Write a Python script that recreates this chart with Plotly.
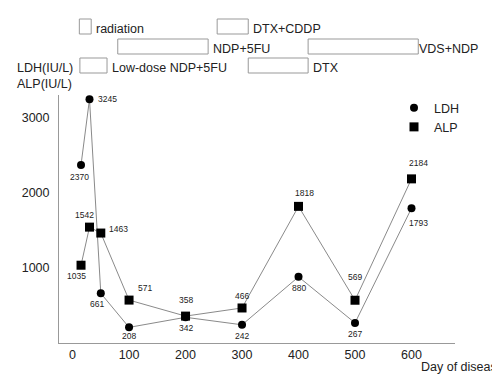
import plotly.graph_objects as go

# ---- data ----
days = [15, 30, 50, 100, 200, 300, 400, 500, 600]
ldh = [2370, 3245, 661, 208, 342, 242, 880, 267, 1793]
alp = [1035, 1542, 1463, 571, 358, 466, 1818, 569, 2184]
x_ticks = [0, 100, 200, 300, 400, 500, 600]
y_ticks = [1000, 2000, 3000]

# treatment periods (name, start day, end day, row)
treat_names = ["radiation", "DTX+CDDP", "NDP+5FU", "VDS+NDP", "Low-dose NDP+5FU", "DTX"]
treat_start = [12, 256, 80, 417, 13, 311]
treat_end = [33, 311, 240, 612, 61, 417]
treat_row = [0, 0, 1, 1, 2, 2]

# ---- layout constants (pixels in the 500x375 window) ----
PAGE = 8                      # browser body margin
W, H = 500 - PAGE, 375 - PAGE
PL, PR, PT, PB = 59, 455, 95, 343     # plot area edges in window pixels
L, T = PL - PAGE, PT - PAGE
R, B = W - (PR - PAGE), H - (PB - PAGE)
PW, PH = PR - PL, PB - PT
FONT = "Liberation Sans, Arial, sans-serif"

def py2paper(py):
    return (PB - py) / PH

def px2paper(px):
    return (px - PL) / PW

# label offsets (dx, dy) in px, screen coords (dy down)
ldh_off = [(-2, 12), (18, 0), (-4, 11), (0, 9), (0, 11), (0, 11), (0, 11), (0, 11), (7, 15)]
alp_off = [(-5, 11), (-5, -12), (18, -4), (16, -12), (0, -16), (0, -12), (6, -13), (0, -23), (7, -16)]

row_box = [(19, 34), (39, 54), (58, 73)]
text_shift = [3, 3, 3, -1, 3, 3]

fig = go.Figure()
fig.add_trace(go.Scatter(x=days, y=ldh, mode="lines+markers", name="LDH",
                         line=dict(color="#8a8a8a", width=1),
                         marker=dict(symbol="circle", size=8, color="black"),
                         showlegend=False))
fig.add_trace(go.Scatter(x=days, y=alp, mode="lines+markers", name="ALP",
                         line=dict(color="#8a8a8a", width=1),
                         marker=dict(symbol="square", size=9, color="black"),
                         showlegend=False))
# legend entries (markers only)
fig.add_trace(go.Scatter(x=[None], y=[None], mode="markers", name="LDH",
                         marker=dict(symbol="circle", size=8, color="black")))
fig.add_trace(go.Scatter(x=[None], y=[None], mode="markers", name="ALP",
                         marker=dict(symbol="square", size=9, color="black")))

annotations = []
for series, offs in ((ldh, ldh_off), (alp, alp_off)):
    for d, v, (dx, dy) in zip(days, series, offs):
        annotations.append(dict(x=d, y=v, xref="x", yref="y", text=str(v),
                                showarrow=False, xshift=dx, yshift=-dy,
                                font=dict(size=8.5, color="#222", family=FONT)))

shapes = []
for name, s, e, r, sh in zip(treat_names, treat_start, treat_end, treat_row, text_shift):
    top, bot = row_box[r]
    shapes.append(dict(type="rect", xref="x", yref="paper", x0=s, x1=e,
                       y0=py2paper(bot), y1=py2paper(top),
                       line=dict(color="#999999", width=1), fillcolor="white"))
    annotations.append(dict(x=e, y=py2paper((top + bot) / 2 + 2), xref="x", yref="paper",
                            text=name, showarrow=False, xanchor="left", yanchor="middle",
                            xshift=sh, font=dict(size=12.5, color="#222", family=FONT)))

annotations.append(dict(x=px2paper(15), y=py2paper(76), xref="paper", yref="paper",
                        text="LDH(IU/L)<br>ALP(IU/L)", showarrow=False, align="left",
                        xanchor="left", yanchor="middle",
                        font=dict(size=12.5, color="#222", family=FONT)))
annotations.append(dict(x=px2paper(419), y=py2paper(367), xref="paper", yref="paper",
                        text="Day of disease", showarrow=False,
                        xanchor="left", yanchor="middle",
                        font=dict(size=12.5, color="#222", family=FONT)))

fig.update_layout(
    width=W, height=H,
    margin=dict(l=L, r=R, t=T, b=B, autoexpand=False),
    plot_bgcolor="white", paper_bgcolor="white",
    font=dict(family=FONT, size=12.5, color="#222"),
    shapes=shapes, annotations=annotations,
    legend=dict(x=px2paper(394), y=py2paper(93), xanchor="left", yanchor="top",
                bgcolor="rgba(0,0,0,0)", font=dict(size=12.5, family=FONT),
                itemwidth=30),
    xaxis=dict(range=[-24, 677], tickvals=x_ticks, showgrid=False, zeroline=False,
               showline=True, linecolor="#999999", linewidth=1, ticks="",
               tickfont=dict(size=12.5)),
    yaxis=dict(range=[0, 3300], tickvals=y_ticks, showgrid=False, zeroline=False,
               showline=True, linecolor="#999999", linewidth=1, ticks="",
               ticklabelstandoff=6, tickfont=dict(size=12.5)),
)

fig.write_html("out.html")
